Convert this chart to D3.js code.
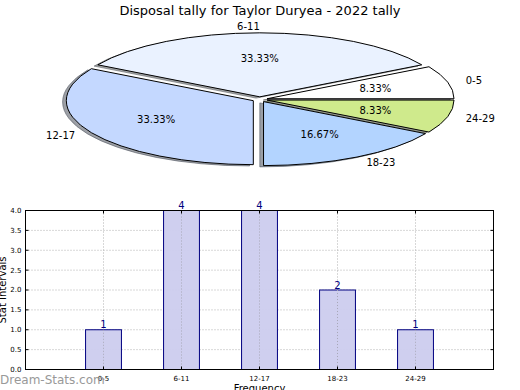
<!DOCTYPE html>
<html><head><meta charset="utf-8">
<script src="https://cdn.jsdelivr.net/npm/d3@7"></script>
<style>
html,body{margin:0;padding:0;background:#fff;}
svg{display:block;font-family:"DejaVu Sans",sans-serif;}
</style></head>
<body><svg id="c" width="520" height="390"></svg>
<script>
const title = "Disposal tally for Taylor Duryea - 2022 tally";
const categories = ["0-5","6-11","12-17","18-23","24-29"];
const values = [1,4,4,2,1];
const sliceColors = ["#ffffff","#eaf2ff","#c4d8ff","#b3d4ff","#cfea8c"];
const yTicks = [0,0.5,1,1.5,2,2.5,3,3.5,4];
const yLabel = "Stat Intervals";
const xLabel = "Frequency";
const watermark = "Dream-Stats.com";

const svg = d3.select("#c");

svg.append("text").attr("x",260).attr("y",15).attr("text-anchor","middle")
  .attr("font-size",13).attr("fill","#000").text(title);

// ---- Pie (ellipse) ----
const cx = 259.8, cy = 99.4, rx = 187, ry = 64, R = 100, explode = 0.04;
const pie = d3.pie().sort(null).startAngle(Math.PI/2).endAngle(Math.PI/2 - 2*Math.PI);
const arcs = pie(values);
const arc = d3.arc().innerRadius(0).outerRadius(R);
const total = d3.sum(values);
const fmt = v => (100*v/total).toFixed(2) + "%";

function off(d, k){
  const a = (d.startAngle + d.endAngle)/2;
  return [cx + k*rx*Math.sin(a), cy - k*ry*Math.cos(a)];
}
const sx = rx/R, sy = ry/R;
const gShadow = svg.append("g");
const gPie = svg.append("g");
arcs.forEach((d,i)=>{
  const [ox, oy] = off(d, explode);
  const c = d3.rgb(sliceColors[i]);
  const sc = d3.rgb(0.3*c.r, 0.3*c.g, 0.3*c.b);
  gShadow.append("path").attr("d", arc(d))
    .attr("transform", `translate(${ox-0.02*rx},${oy+0.02*ry}) scale(${sx},${sy})`)
    .attr("fill", sc).attr("fill-opacity",0.5)
    .attr("stroke", sc).attr("stroke-opacity",0.5).attr("stroke-width",1)
    .attr("vector-effect","non-scaling-stroke");
  gPie.append("path").attr("d", arc(d))
    .attr("transform", `translate(${ox},${oy}) scale(${sx},${sy})`)
    .attr("fill", sliceColors[i]).attr("stroke","#000").attr("stroke-width",1)
    .attr("vector-effect","non-scaling-stroke");
});
arcs.forEach((d,i)=>{
  const [ox, oy] = off(d, explode);
  const a = (d.startAngle + d.endAngle)/2;
  const lx = ox + 1.1*rx*Math.sin(a), ly = oy - 1.1*ry*Math.cos(a);
  svg.append("text").attr("x",lx).attr("y",ly).attr("dy","0.35em")
    .attr("text-anchor", Math.sin(a) > 1e-9 ? "start" : "end")
    .attr("font-size",10).attr("fill","#000").text(categories[i]);
  const px = ox + 0.6*rx*Math.sin(a), py = oy - 0.6*ry*Math.cos(a);
  svg.append("text").attr("x",px).attr("y",py).attr("dy","0.35em")
    .attr("text-anchor","middle").attr("font-size",10).attr("fill","#000").text(fmt(values[i]));
});

// ---- Bar chart ----
const L = 25.5, Rr = 493.5, T = 210.5, B = 369.5;
const x = d3.scaleLinear().domain([-1, categories.length]).range([L, Rr]);
const y = d3.scaleLinear().domain([0, 4]).range([B, T]);
const g = svg.append("g");
// grid
g.selectAll(".hg").data(yTicks).enter().append("line")
  .attr("x1",L).attr("x2",Rr).attr("y1",d=>y(d)).attr("y2",d=>y(d))
  .attr("stroke","#b0b0b0").attr("stroke-width",1).attr("stroke-dasharray","1,2");
g.selectAll(".vg").data(categories).enter().append("line")
  .attr("x1",(d,i)=>x(i)).attr("x2",(d,i)=>x(i)).attr("y1",T).attr("y2",B)
  .attr("stroke","#b0b0b0").attr("stroke-width",1).attr("stroke-dasharray","1,2");
// bars
const bw = 0.46;
g.selectAll(".bar").data(values).enter().append("rect")
  .attr("x",(d,i)=>x(i-bw/2)).attr("width",x(bw)-x(0))
  .attr("y",d=>y(d)).attr("height",d=>B-y(d))
  .attr("fill","#ccccee").attr("fill-opacity",0.95).attr("stroke","#000080").attr("stroke-width",1);
g.selectAll(".vg2").data(values).enter().append("line")
  .attr("x1",(d,i)=>x(i)).attr("x2",(d,i)=>x(i)).attr("y1",d=>y(d)).attr("y2",B)
  .attr("stroke","#a8a8b8").attr("stroke-width",1).attr("stroke-dasharray","1,2");
g.selectAll(".vl").data(values).enter().append("text")
  .attr("x",(d,i)=>x(i)).attr("y",d=>y(d)-1.5).attr("text-anchor","middle")
  .attr("font-size",10).attr("fill","#000080").text(d=>d);
// frame
g.append("rect").attr("x",L).attr("y",T).attr("width",Rr-L).attr("height",B-T)
  .attr("fill","none").attr("stroke","#000").attr("stroke-width",1);
// y ticks
yTicks.forEach(t=>{
  g.append("line").attr("x1",L).attr("x2",L+3).attr("y1",y(t)).attr("y2",y(t)).attr("stroke","#000");
  g.append("line").attr("x1",Rr-3).attr("x2",Rr).attr("y1",y(t)).attr("y2",y(t)).attr("stroke","#000");
  g.append("text").attr("x",L-4).attr("y",y(t)).attr("dy","0.35em").attr("text-anchor","end")
    .attr("font-size",7).attr("fill","#000").text(t.toFixed(1));
});
categories.forEach((c,i)=>{
  g.append("line").attr("x1",x(i)).attr("x2",x(i)).attr("y1",B).attr("y2",B-3).attr("stroke","#000");
  g.append("line").attr("x1",x(i)).attr("x2",x(i)).attr("y1",T).attr("y2",T+3).attr("stroke","#000");
  g.append("text").attr("x",x(i)).attr("y",B+9.5).attr("dy","0.35em").attr("text-anchor","middle")
    .attr("font-size",7).attr("fill","#000").text(c);
});
svg.append("text").attr("x",(L+Rr)/2).attr("y",392).attr("text-anchor","middle")
  .attr("font-size",10).attr("fill","#000").text(xLabel);
svg.append("text").attr("transform",`translate(6,${(T+B)/2}) rotate(-90)`).attr("text-anchor","middle")
  .attr("font-size",10).attr("fill","#000").text(yLabel);
svg.append("text").attr("x",0).attr("y",384).attr("font-size",12).attr("fill","#999999")
  .text(watermark);
</script></body></html>
